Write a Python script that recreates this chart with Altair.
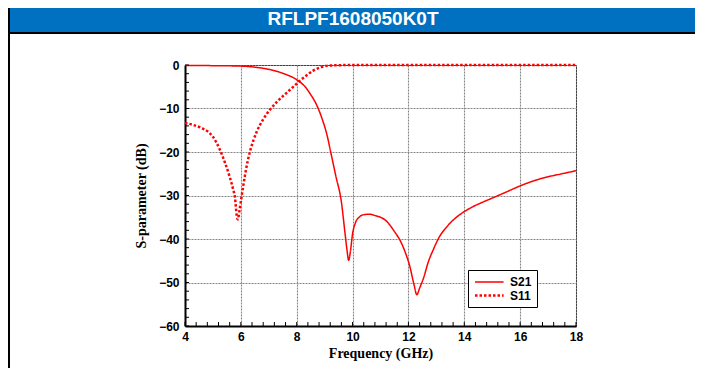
import altair as alt
import pandas as pd

TITLE = "RFLPF1608050K0T"

s21_freq = [4.0, 5.0, 6.0, 6.5, 7.0, 7.5, 8.0, 8.3, 8.5, 8.7, 8.9, 9.1, 9.2, 9.4, 9.6, 9.73, 9.8, 9.86,
            9.92, 10.0, 10.1, 10.25, 10.4, 10.6, 10.8, 11.0, 11.2, 11.5, 11.7, 11.9, 12.05, 12.2, 12.3,
            12.4, 12.55, 12.7, 12.9, 13.1, 13.4, 13.7, 14.0, 14.3, 14.6, 15.0, 15.5, 16.0, 16.5, 17.0,
            17.5, 18.0]
s21_db = [-0.10, -0.15, -0.25, -0.5, -1.0, -1.9, -3.4, -5.0, -6.8, -9.0, -12.2, -16.5, -19.5, -25.5,
          -31.5, -38.7, -42.5, -44.9, -43.0, -38.8, -36.3, -34.9, -34.4, -34.3, -34.6, -35.0, -35.8,
          -38.3, -40.3, -43.3, -46.3, -50.5, -52.8, -51.3, -48.8, -45.5, -42.3, -39.6, -37.0, -35.1,
          -33.7, -32.6, -31.7, -30.6, -29.2, -27.8, -26.6, -25.7, -25.0, -24.3]

s11_freq = [4.0, 4.3, 4.6, 4.8, 5.0, 5.25, 5.45, 5.6, 5.72, 5.79, 5.85, 5.89, 5.95, 6.02, 6.08, 6.2,
            6.33, 6.45, 6.57, 6.8, 7.04, 7.3, 7.64, 8.0, 8.12, 8.35, 8.59, 8.83, 9.07, 9.5, 10.0, 18.0]
s11_db = [-13.3, -13.8, -14.5, -15.2, -16.5, -19.5, -22.8, -25.7, -28.5, -30.5, -34.5, -35.5, -33.5,
          -30.5, -28.0, -23.5, -19.8, -17.3, -15.3, -12.5, -10.3, -8.4, -6.4, -4.3, -3.6, -2.4, -1.3,
          -0.6, -0.2, -0.05, 0.0, 0.0]

series_names = ["S21", "S11"]
x_ticks = [4, 6, 8, 10, 12, 14, 16, 18]
y_ticks = [-60, -50, -40, -30, -20, -10, 0]
x_minor = [round(4 + 0.4 * i, 1) for i in range(36)]
y_minor = [-60 + 2 * i for i in range(31)]

W, H = 391, 261
PL, PT = 177, 57
TW, TH = 687, 360

lines_df = pd.concat([
    pd.DataFrame({"f": s21_freq, "v": s21_db, "series": "S21"}),
    pd.DataFrame({"f": s11_freq, "v": s11_db, "series": "S11"}),
])

SANS = "Liberation Sans, Arial, sans-serif"
SERIF = "Liberation Serif, Times New Roman, serif"

x_scale = alt.Scale(domain=[4, 18], nice=False, zero=False)
y_scale = alt.Scale(domain=[-60, 0], nice=False, zero=False)

one = pd.DataFrame({"title": [TITLE]})

blue_bar = alt.Chart(one).mark_rect(color="#0070C0").encode(
    x=alt.value(-PL + 2), x2=alt.value(TW - PL), y=alt.value(-PT), y2=alt.value(-PT + 24))
black_bar = alt.Chart(one).mark_rect(color="black").encode(
    x=alt.value(-PL), x2=alt.value(TW - PL), y=alt.value(-PT + 24), y2=alt.value(-PT + 26))
left_line = alt.Chart(one).mark_rect(color="black").encode(
    x=alt.value(-PL), x2=alt.value(-PL + 2), y=alt.value(-PT), y2=alt.value(TH - PT))
title_txt = alt.Chart(one).mark_text(font=SANS, fontSize=19, fontWeight="bold", color="white",
                                     align="center", baseline="middle").encode(
    text="title:N", x=alt.value(168), y=alt.value(-46))

legend = alt.Legend(title=None, orient="none", legendX=283, legendY=205, strokeColor="black",
                    fillColor="white", padding=5.5, labelFont=SANS, labelFontSize=12,
                    labelFontWeight="bold", labelColor="black", symbolType="M-1,0H4.2",
                    symbolSize=121, labelOffset=22.5, rowPadding=0)

grid_style = dict(grid=True, gridColor="#858585", gridDash=[2, 1], gridWidth=1.1, ticks=False,
                  domainColor="black", domainWidth=2, labelFont=SANS, labelFontWeight="bold",
                  labelFontSize=12, labelColor="black", labelFlush=False, titleFont=SERIF,
                  titleFontSize=14, titleFontWeight="bold", titleColor="black")

lines = alt.Chart(lines_df).mark_line(interpolate="monotone").encode(
    x=alt.X("f:Q", scale=x_scale, axis=alt.Axis(values=x_ticks, title="Frequency (GHz)",
            labelPadding=5, titlePadding=4, **grid_style)),
    y=alt.Y("v:Q", scale=y_scale, axis=alt.Axis(values=y_ticks, title="S-parameter (dB)",
            labelPadding=6, titlePadding=10, **grid_style)),
    color=alt.Color("series:N", scale=alt.Scale(domain=series_names, range=["#ff0000", "#ff0000"]),
                    legend=legend),
    strokeDash=alt.StrokeDash("series:N", scale=alt.Scale(domain=series_names, range=[[1, 0], [2.5, 2]]),
                              legend=legend),
    strokeWidth=alt.StrokeWidth("series:N", scale=alt.Scale(domain=series_names, range=[1.5, 2.5]),
                                legend=legend),
)

xminor = alt.Chart(pd.DataFrame({"f": x_minor})).mark_rule(color="black", strokeWidth=1).encode(
    x=alt.X("f:Q", scale=x_scale), y=alt.value(H), y2=alt.value(H - 4))
yminor = alt.Chart(pd.DataFrame({"v": y_minor})).mark_rule(color="black", strokeWidth=1).encode(
    y=alt.Y("v:Q", scale=y_scale), x=alt.value(0), x2=alt.value(4))

chart = alt.layer(blue_bar, black_bar, left_line, title_txt, lines, xminor, yminor).properties(
    width=W, height=H,
    padding={"left": PL, "top": PT, "right": TW - PL - W, "bottom": TH - PT - H},
    autosize=alt.AutoSizeParams(type="none"),
    background="white",
).configure_view(stroke="black", strokeWidth=1)

chart.save("out.html", embed_options={"renderer": "svg", "actions": False})
